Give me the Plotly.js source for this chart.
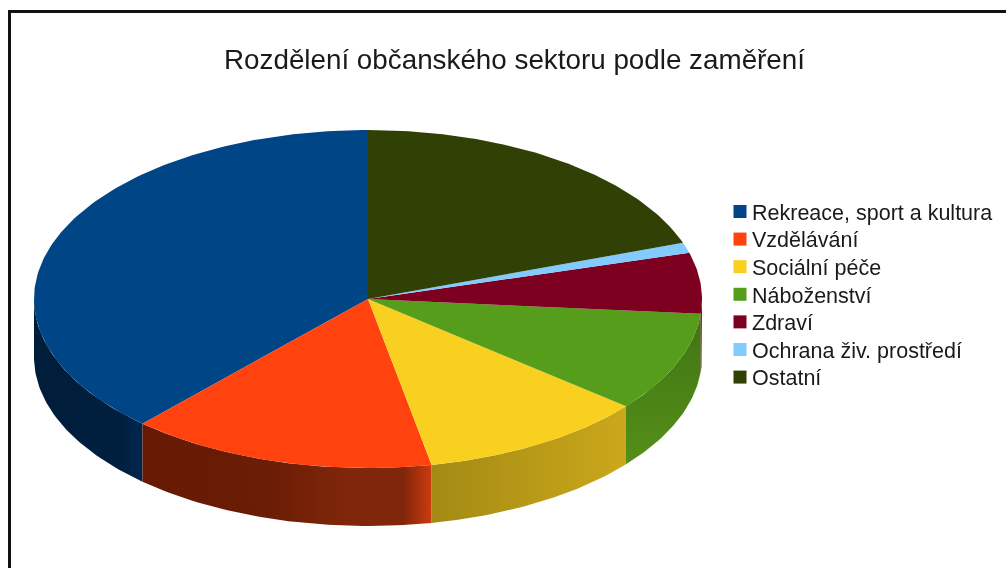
<!DOCTYPE html>
<html>
<head>
<meta charset="utf-8">
<script src="https://cdn.plot.ly/plotly-3.0.1.min.js"></script>
<style>
html,body{margin:0;padding:0;background:#fff;overflow:hidden}
#chart{width:1006px;height:568px;filter:blur(0.45px)}
</style>
</head>
<body>
<div id="chart"></div>
<script>
// Data (percent shares)
var categories = ["Rekreace, sport a kultura","Vzdělávání","Sociální péče","Náboženství","Zdraví","Ochrana živ. prostředí","Ostatní"];
var shares = [38.2,14.85,11.0,9.55,5.8,1.0,19.6];
var chartTitle = "Rozdělení občanského sektoru podle zaměření";

// Styles
var topColors = ["#004586","#ff420e","#f9d01f","#579d1c","#7e0021","#83caff","#314004"];
var wallFills = [
  {type:"horizontal",colorscale:[[0,"#001d3b"],[0.8,"#001f3e"],[1,"#00264f"]]},
  {type:"horizontal",colorscale:[[0,"#661a04"],[0.45,"#6b1d05"],[0.7,"#80260a"],[0.9,"#80260a"],[1,"#cc3a0f"]]},
  {type:"horizontal",colorscale:[[0,"#a48a14"],[1,"#cba81b"]]},
  {type:"vertical",colorscale:[[0,"#558f18"],[1,"#3f7513"]]},
  {type:"vertical",colorscale:[[0,"#7a0024"],[1,"#6a001f"]]},
  null,null
];

// Geometry of the tilted disc, in axis units (axes are 1:1 with the page)
var cx=368, cy=299, rx=334, ry=169, depth=58;
function px(t){return cx-rx*Math.sin(t*Math.PI/180);}
function py(t){return cy-ry*Math.cos(t*Math.PI/180);}
function arc(a,b,dy){
  var xs=[],ys=[],n=Math.max(2,Math.ceil(Math.abs(b-a)));
  for(var i=0;i<=n;i++){var t=a+(b-a)*i/n;xs.push(px(t));ys.push(py(t)+dy);}
  return {x:xs,y:ys};
}

var total=shares.reduce(function(s,v){return s+v;},0);
var walls=[],tops=[],keys=[],start=0;
categories.forEach(function(name,i){
  var a=start,b=start+shares[i]/total*360;start=b;
  var label=name+": "+shares[i]+" %";
  var wa=Math.max(a,90),wb=Math.min(b,270);
  if(wb>wa && wallFills[i]){
    var up=arc(wa,wb,0),lo=arc(wb,wa,depth);
    walls.push({type:"scatter",mode:"lines",x:up.x.concat(lo.x),y:up.y.concat(lo.y),fill:"toself",
      fillgradient:wallFills[i],line:{width:0},hoverinfo:"text",text:label,hoveron:"fills",
      showlegend:false,legendgroup:name});
  }
  var rim=arc(a,b,0);
  tops.push({type:"scatter",mode:"lines",x:[cx].concat(rim.x,[cx]),y:[cy].concat(rim.y,[cy]),fill:"toself",
    fillcolor:topColors[i],line:{width:0},hoverinfo:"text",text:label,hoveron:"fills",
    showlegend:false,legendgroup:name});
  keys.push({type:"scatter",mode:"markers",x:[null],y:[null],name:name,legendgroup:name,showlegend:true,
    marker:{symbol:"square",size:13,color:topColors[i],line:{width:0}},hoverinfo:"skip"});
});

var W=1006,H=568;
var layout={
  width:W,height:H,margin:{l:0,r:0,t:0,b:0},paper_bgcolor:"#fff",plot_bgcolor:"#fff",
  font:{family:"Liberation Sans, Arial, sans-serif",color:"#1a1a1a"},
  title:{text:chartTitle,x:514.5/W,xanchor:"center",y:1-59/H,yanchor:"middle",
    font:{family:"Liberation Sans, Arial, sans-serif",size:27.8,color:"#1a1a1a"}},
  xaxis:{range:[0,W],visible:false,fixedrange:true},
  yaxis:{range:[H,0],visible:false,fixedrange:true},
  showlegend:true,
  legend:{x:712/W,xanchor:"left",y:1-191/H,yanchor:"top",bgcolor:"rgba(0,0,0,0)",
    font:{family:"Liberation Sans, Arial, sans-serif",size:21.5,color:"#1a1a1a"},
    tracegroupgap:0,traceorder:"normal",itemclick:false,itemdoubleclick:false},
  shapes:[
    {type:"line",xref:"x",yref:"y",x0:9.5,x1:W,y0:11.5,y1:11.5,line:{color:"#111",width:3}},
    {type:"line",xref:"x",yref:"y",x0:9.5,x1:9.5,y0:10,y1:H,line:{color:"#111",width:3}}
  ]
};
var gd=document.getElementById("chart");
var rowPitch=27.6;
Plotly.newPlot(gd,walls.concat(tops,keys),layout,{displayModeBar:false,responsive:false}).then(function(){
  // keep the swatches as close to their labels, and the rows as tight, as in the reference
  gd.querySelectorAll(".legend .legendsymbols").forEach(function(g){
    g.setAttribute("transform","translate(8,0)");
  });
  var rows=gd.querySelectorAll(".legend .traces"),first=null;
  rows.forEach(function(r,i){
    var top=r.getBoundingClientRect().top;
    if(first===null)first=top;
    var m=/translate\(\s*([-\d.]+)[ ,]+([-\d.]+)\s*\)/.exec(r.getAttribute("transform")||"");
    var tx=m?+m[1]:0,ty=m?+m[2]:0;
    r.setAttribute("transform","translate("+tx+","+(ty+first+i*rowPitch-top)+")");
  });
});
</script>
</body>
</html>
